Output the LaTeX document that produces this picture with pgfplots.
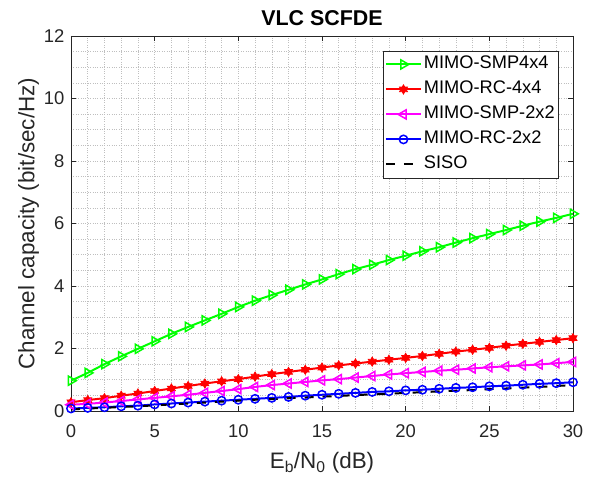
\documentclass[border=0pt]{standalone}
\usepackage{fontspec}
\setmainfont{Liberation Sans}
\usepackage{pgfplots}
\pgfplotsset{compat=1.18}
\usetikzlibrary{plotmarks}
\definecolor{axgray}{rgb}{0.15,0.15,0.15}
\definecolor{gridgray}{rgb}{0.75,0.75,0.75}
\definecolor{mgreen}{rgb}{0,1,0}
\definecolor{mred}{rgb}{1,0,0}
\definecolor{mmag}{rgb}{1,0,1}
\definecolor{mblue}{rgb}{0,0,1}
\pgfdeclareplotmark{hexagram}{%
  \pgfpathmoveto{\pgfpointpolar{90}{\pgfplotmarksize}}%
  \pgfpathlineto{\pgfpointpolar{120}{0.577\pgfplotmarksize}}%
  \pgfpathlineto{\pgfpointpolar{150}{\pgfplotmarksize}}%
  \pgfpathlineto{\pgfpointpolar{180}{0.577\pgfplotmarksize}}%
  \pgfpathlineto{\pgfpointpolar{210}{\pgfplotmarksize}}%
  \pgfpathlineto{\pgfpointpolar{240}{0.577\pgfplotmarksize}}%
  \pgfpathlineto{\pgfpointpolar{270}{\pgfplotmarksize}}%
  \pgfpathlineto{\pgfpointpolar{300}{0.577\pgfplotmarksize}}%
  \pgfpathlineto{\pgfpointpolar{330}{\pgfplotmarksize}}%
  \pgfpathlineto{\pgfpointpolar{0}{0.577\pgfplotmarksize}}%
  \pgfpathlineto{\pgfpointpolar{30}{\pgfplotmarksize}}%
  \pgfpathlineto{\pgfpointpolar{60}{0.577\pgfplotmarksize}}%
  \pgfpathclose
  \pgfusepathqfillstroke
}
\begin{document}
\begin{tikzpicture}
\begin{axis}[
  scale only axis, width=502bp, height=375bp,
  xmin=0, xmax=30, ymin=0, ymax=12,
  xtick={0,5,...,30}, ytick={0,2,...,12},
  minor x tick num=4, minor y tick num=3,
  grid=both,
  major grid style={gridgray, dotted, line width=0.6pt},
  minor grid style={gridgray, dotted, line width=0.6pt},
  tick align=inside, major tick length=5bp, minor tick length=0pt,
  tick style={axgray, line width=0.5pt},
  axis line style={axgray, line width=0.6pt},
  ticklabel style={font=\fontsize{18.5}{20}\selectfont, text=axgray},
  xticklabel style={yshift=-10bp},
  yticklabel style={xshift=-3bp},
  /pgf/number format/assume math mode=true,
  xlabel={E\textsubscript{b}/N\textsubscript{0} (dB)},
  ylabel={Channel capacity (bit/sec/Hz)},
  label style={font=\fontsize{22.5}{24}\selectfont, text=axgray},
  title={\textbf{VLC SCFDE}},
  title style={font=\fontsize{21.5}{23}\selectfont, yshift=1bp},
  xlabel style={yshift=-8bp},
  ylabel style={yshift=-2bp},
  legend style={at={(0.972,0.961)}, anchor=north east, draw=axgray, line width=0.6pt,
    font=\fontsize{18.3}{20}\selectfont, row sep=8bp, inner xsep=2bp, inner ysep=5bp,
    nodes={inner xsep=2bp, inner ysep=0pt, text height=13bp, text depth=4bp}},
  legend cell align=left,
  legend image code/.code={\draw[mark repeat=2,mark phase=2] plot coordinates {(0bp,0bp) (17.5bp,0bp) (35bp,0bp)};},
  legend image post style={line width=2pt},
  every axis plot/.append style={line width=2pt},
]
\addplot[color=mgreen, mark=triangle, mark size=5.3pt, mark options={rotate=-90, solid, line width=1.5pt}] table {
x y
0 0.97
1 1.22
2 1.50
3 1.75
4 1.99
5 2.23
6 2.47
7 2.69
8 2.90
9 3.11
10 3.33
11 3.53
12 3.71
13 3.88
14 4.05
15 4.21
16 4.38
17 4.54
18 4.68
19 4.83
20 4.97
21 5.11
22 5.24
23 5.39
24 5.53
25 5.66
26 5.79
27 5.93
28 6.06
29 6.18
30 6.31
};
\addlegendentry{MIMO-SMP4x4}
\addplot[color=mred, mark=hexagram, mark size=4.6pt, mark options={solid, fill=mred, line width=0.8pt}] table {
x y
0 0.28
1 0.35
2 0.41
3 0.49
4 0.56
5 0.64
6 0.72
7 0.80
8 0.88
9 0.95
10 1.02
11 1.10
12 1.18
13 1.25
14 1.32
15 1.39
16 1.46
17 1.52
18 1.58
19 1.64
20 1.70
21 1.76
22 1.83
23 1.90
24 1.96
25 2.02
26 2.09
27 2.15
28 2.21
29 2.27
30 2.33
};
\addlegendentry{MIMO-RC-4x4}
\addplot[color=mmag, mark=triangle, mark size=5.3pt, mark options={rotate=90, solid, line width=1.5pt}] table {
x y
0 0.20
1 0.23
2 0.27
3 0.32
4 0.37
5 0.42
6 0.47
7 0.52
8 0.58
9 0.64
10 0.70
11 0.77
12 0.83
13 0.88
14 0.93
15 0.98
16 1.02
17 1.07
18 1.12
19 1.17
20 1.21
21 1.25
22 1.29
23 1.32
24 1.36
25 1.40
26 1.43
27 1.46
28 1.49
29 1.53
30 1.57
};
\addlegendentry{MIMO-SMP-2x2}
\addplot[color=mblue, mark=o, mark size=4.2pt, mark options={solid, line width=1.5pt}] table {
x y
0 0.08
1 0.10
2 0.12
3 0.15
4 0.17
5 0.21
6 0.24
7 0.27
8 0.30
9 0.33
10 0.36
11 0.39
12 0.42
13 0.45
14 0.49
15 0.52
16 0.55
17 0.58
18 0.61
19 0.63
20 0.66
21 0.68
22 0.71
23 0.74
24 0.76
25 0.79
26 0.81
27 0.84
28 0.87
29 0.89
30 0.92
};
\addlegendentry{MIMO-RC-2x2}
\addplot[color=black, dash pattern=on 9bp off 9bp, no marks,
  legend image code/.code={\draw[dash pattern=on 9bp off 9bp] (0bp,0bp) -- (35bp,0bp);}] table {
x y
0 0.05
1 0.08
2 0.10
3 0.13
4 0.15
5 0.18
6 0.21
7 0.24
8 0.27
9 0.30
10 0.33
11 0.36
12 0.38
13 0.41
14 0.43
15 0.46
16 0.48
17 0.51
18 0.53
19 0.55
20 0.58
21 0.60
22 0.63
23 0.65
24 0.67
25 0.70
26 0.72
27 0.75
28 0.77
29 0.80
30 0.83
};
\addlegendentry{SISO}
\end{axis}
\pgfresetboundingbox
\path (current axis.south west) ++(-71bp,-72.3bp) rectangle ([xshift=30bp,yshift=36bp]current axis.north east);
\end{tikzpicture}
\end{document}
